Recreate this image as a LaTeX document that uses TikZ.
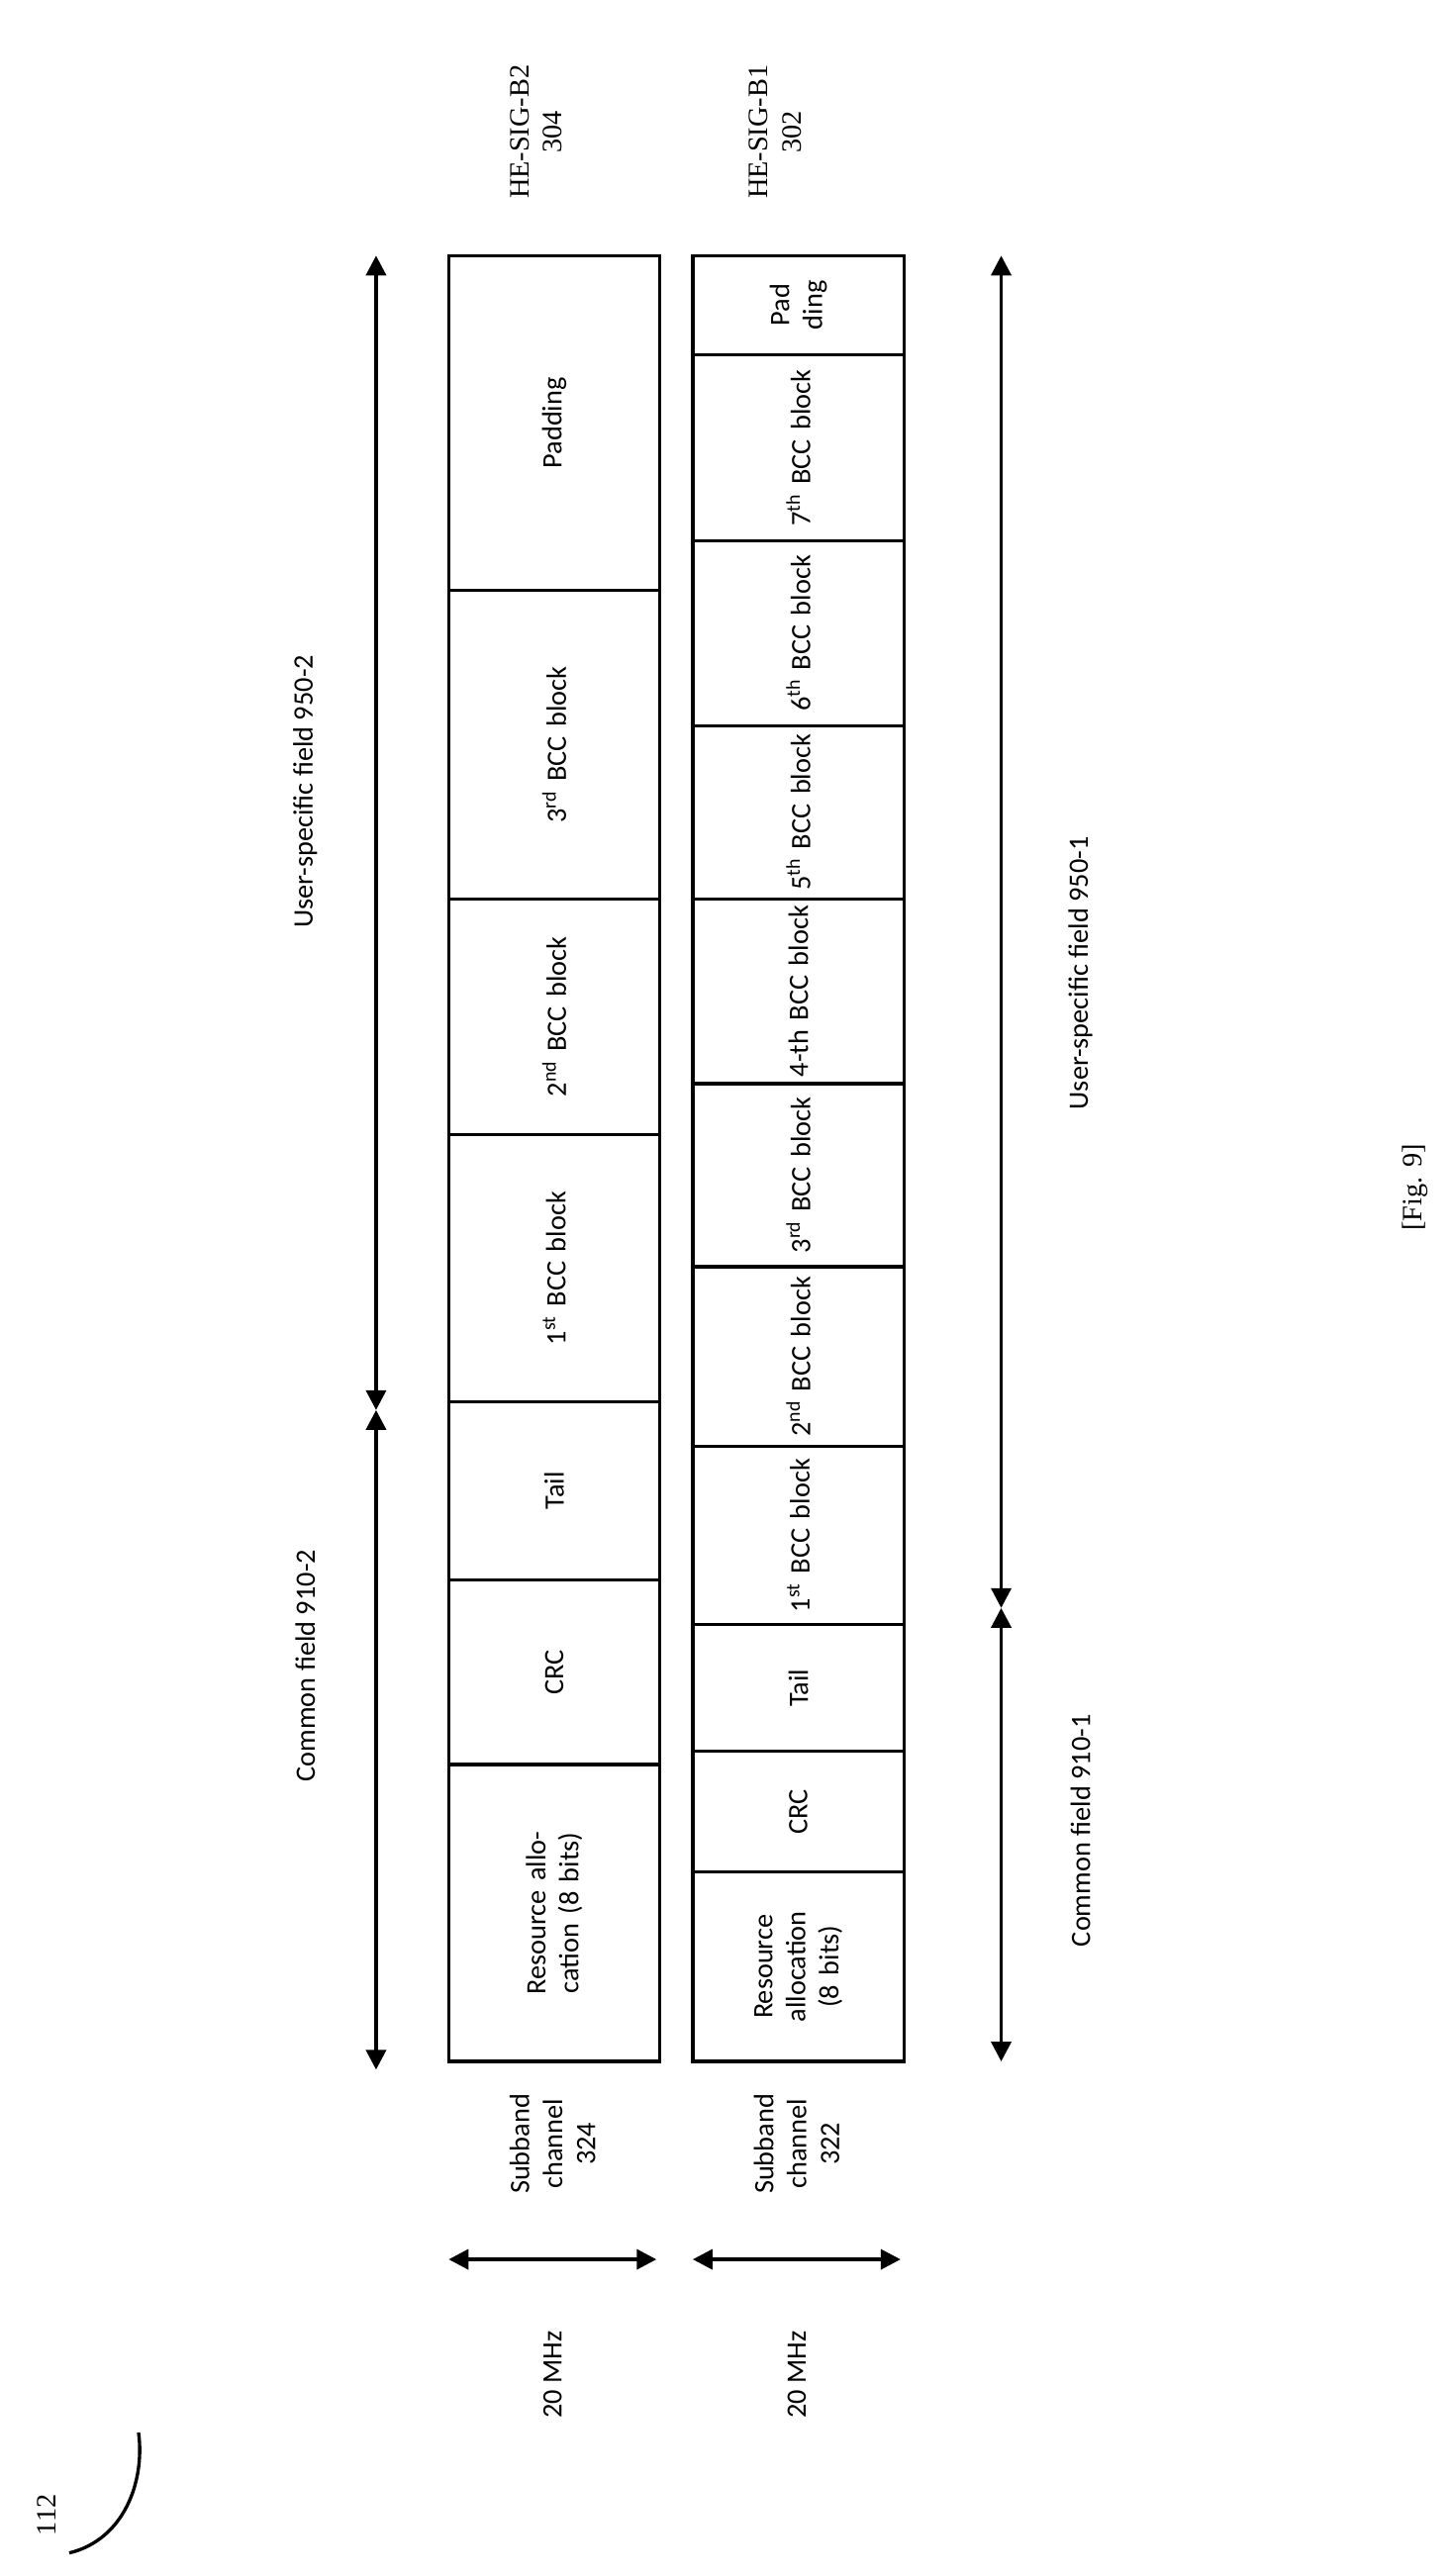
\documentclass[tikz,border=0pt]{standalone}
\usepackage{fontspec}
\setmainfont{Carlito}
\newfontfamily\serif{Liberation Serif}
\usetikzlibrary{arrows.meta}
\begin{document}
\begin{tikzpicture}[x=1pt,y=-1pt,
  box/.style={draw,line width=2pt},
  lbl/.style={rotate=90,align=center,font=\fontsize{17}{20}\selectfont},
  arr/.style={line width=2.2pt,{Triangle[length=12pt,width=12pt]}-{Triangle[length=12pt,width=12pt]}}]
\useasboundingbox (0,0) rectangle (880,1562);
% row boxes
\newcommand\cellB[5]{\draw[box] (#1,#3) rectangle (#2,#4); \node[lbl,text width={#3-#4-6}] at ({(#1+#2)/2},{(#3+#4)/2}) {#5};}
% B2
\cellB{272}{400}{1250}{1070}{Resource allocation (8 bits)}
\cellB{272}{400}{1070}{958}{CRC}
\cellB{272}{400}{958}{850}{Tail}
\cellB{272}{400}{850}{688}{1\textsuperscript{st} BCC block}
\cellB{272}{400}{688}{545}{2\textsuperscript{nd} BCC block}
\cellB{272}{400}{545}{358}{3\textsuperscript{rd} BCC block}
\cellB{272}{400}{358}{155}{Padding}
% B1
\cellB{420}{548}{1250}{1135}{Resource allocation (8 bits)}
\cellB{420}{548}{1135}{1062}{CRC}
\cellB{420}{548}{1062}{985}{Tail}
\cellB{420}{548}{985}{877}{1\textsuperscript{st} BCC block}
\cellB{420}{548}{877}{768}{2\textsuperscript{nd} BCC block}
\cellB{420}{548}{768}{657}{3\textsuperscript{rd} BCC block}
\cellB{420}{548}{657}{545}{4-th BCC block}
\cellB{420}{548}{545}{440}{5\textsuperscript{th} BCC block}
\cellB{420}{548}{440}{328}{6\textsuperscript{th} BCC block}
\cellB{420}{548}{328}{215}{7\textsuperscript{th} BCC block}
\cellB{420}{548}{215}{155}{Pad ding}
% arrows
\coordinate (a1) at (228,1255); \coordinate (a2) at (228,855); \coordinate (a3) at (228,155);
\draw[arr] (a1) -- (a2); \draw[arr] (a2) -- (a3);
\node[lbl] at (185,1010) {Common field 910-2};
\node[lbl] at (185,480) {User-specific field 950-2};
\coordinate (b1) at (607,1250); \coordinate (b2) at (607,975); \coordinate (b3) at (607,155);
\draw[arr] (b1) -- (b2); \draw[arr] (b2) -- (b3);
\node[lbl] at (655,1110) {Common field 910-1};
\node[lbl] at (655,590) {User-specific field 950-1};
% top labels
\node[lbl,font=\serif\fontsize{17}{20}\selectfont] at (325,80) {HE-SIG-B2\\304};
\node[lbl,font=\serif\fontsize{17}{20}\selectfont] at (470,80) {HE-SIG-B1\\302};
% subband
\coordinate (s1) at (272,1370); \coordinate (s2) at (398,1370);
\draw[arr] (s1) -- (s2);
\node[lbl] at (335,1440) {20 MHz};
\node[lbl] at (335,1300) {Subband\\channel\\324};
\coordinate (t1) at (420,1370); \coordinate (t2) at (546,1370);
\draw[arr] (t1) -- (t2);
\node[lbl] at (483,1440) {20 MHz};
\node[lbl] at (483,1300) {Subband\\channel\\322};
% 112
\node[lbl,font=\serif\fontsize{17}{20}\selectfont] at (28,1525) {112};
\draw[line width=2pt] (42,1548) .. controls (75,1540) and (88,1505) .. (84,1475);
\node[lbl,font=\serif\fontsize{17}{20}\selectfont] at (858,720) {[Fig. 9]};
\end{tikzpicture}
\end{document}
